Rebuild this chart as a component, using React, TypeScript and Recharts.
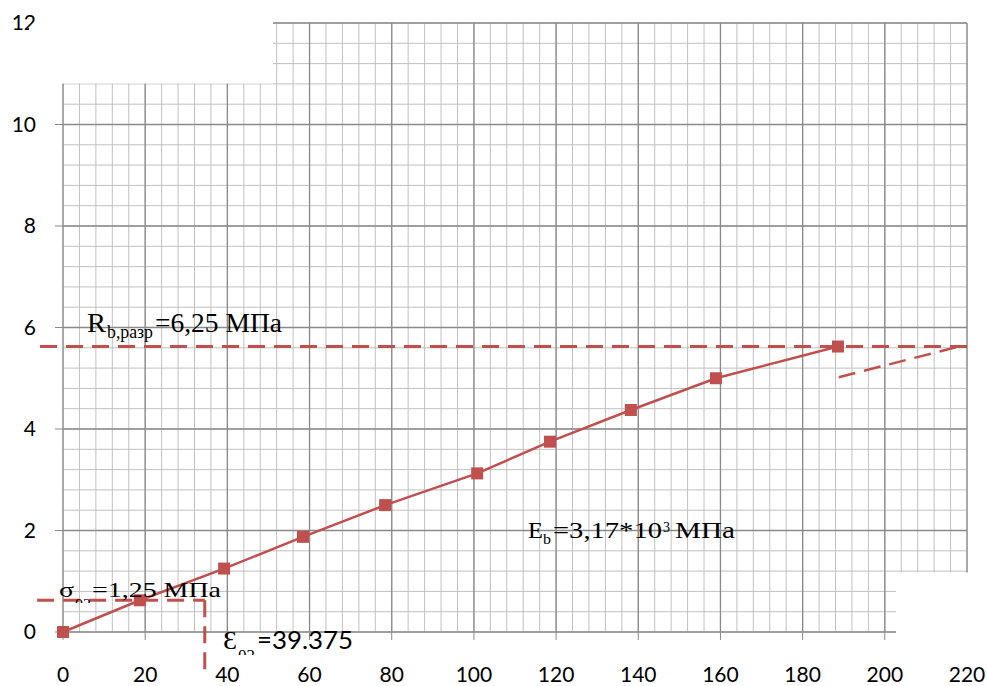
import React from "react";
import { CartesianGrid, LineChart, Line, ReferenceLine, XAxis, YAxis } from "recharts";

// strain (x) and stress (y) readings
const strain = [0, 18.7, 39.2, 58.4, 78.4, 100.8, 118.5, 138.2, 158.9, 188.6];
const stress = [0, 0.625, 1.25, 1.875, 2.5, 3.125, 3.75, 4.375, 5.0, 5.625];

const xTicks = [0, 20, 40, 60, 80, 100, 120, 140, 160, 180, 200, 220];
const yTicks = [0, 2, 4, 6, 8, 10, 12];

// helper lines
const rupture = 5.625;
const sigma02 = 0.625;
const eps02 = 34.5;
const tangentFrom = { x: 188.8, y: 5.02 };
const tangentTo = { x: 217.3, y: 5.61 };

const minorX = Array.from({ length: 56 }, (_, i) => i * 4);
const minorY = Array.from({ length: 31 }, (_, i) => +(i * 0.4).toFixed(1));

const RED = "#c0504d";
const serif = "Liberation Serif, DejaVu Serif, serif";

const data = strain.map((x, i) => ({ x, y: stress[i] }));

function Square(props: any) {
  const { cx, cy, index } = props;
  if (cx == null || cy == null) return null;
  return <rect key={`sq-${index}`} x={cx - 6} y={cy - 6} width={12} height={12} fill={RED} />;
}

const minorVertical = ({ offset }: any) => minorX.map((v) => offset.left + (offset.width * v) / 220);
const minorHorizontal = ({ offset }: any) => minorY.map((v) => offset.top + offset.height * (1 - v / 12));

export default function App() {
  const tickStyle = { fontFamily: "Lato, sans-serif", fontSize: 21, fill: "#000" };
  const t = { fontFamily: serif };
  return (
    <div style={{ position: "absolute", left: 0, top: 0, width: 987, height: 686, background: "#fff" }}>
      <LineChart width={987} height={686} data={data} margin={{ top: 23, right: 20, bottom: 0, left: 0 }}>
        <CartesianGrid
          stroke="#c0c0c0"
          strokeWidth={1}
          verticalCoordinatesGenerator={minorVertical}
          horizontalCoordinatesGenerator={minorHorizontal}
        />
        <CartesianGrid stroke="#8a8a8a" strokeWidth={1.3} />
        <XAxis
          type="number"
          dataKey="x"
          domain={[0, 220]}
          ticks={xTicks}
          interval={0}
          height={54}
          axisLine={false}
          tickSize={8}
          tickMargin={27}
          tickLine={{ stroke: "#8a8a8a" }}
          tick={tickStyle}
        />
        <YAxis
          type="number"
          domain={[0, 12]}
          ticks={yTicks}
          interval={0}
          width={63}
          axisLine={false}
          tickSize={8}
          tickMargin={19}
          tickLine={{ stroke: "#8a8a8a" }}
          tick={tickStyle}
        />
        <ReferenceLine
          segment={[{ x: -5.6, y: rupture }, { x: 220.7, y: rupture }]}
          ifOverflow="visible"
          stroke={RED}
          strokeWidth={3}
          strokeDasharray="17 9"
        />
        <ReferenceLine
          segment={[{ x: -6.3, y: sigma02 }, { x: eps02, y: sigma02 }]}
          ifOverflow="visible"
          stroke={RED}
          strokeWidth={3}
          strokeDasharray="17 9"
        />
        <ReferenceLine
          segment={[{ x: eps02, y: sigma02 }, { x: eps02, y: -0.75 }]}
          ifOverflow="visible"
          stroke={RED}
          strokeWidth={3}
          strokeDasharray="17 9"
        />
        <ReferenceLine
          segment={[tangentFrom, tangentTo]}
          ifOverflow="visible"
          stroke={RED}
          strokeWidth={2.5}
          strokeDasharray="17 9"
        />
        <Line
          type="linear"
          dataKey="y"
          stroke={RED}
          strokeWidth={2.5}
          dot={<Square />}
          activeDot={false}
          isAnimationActive={false}
        />
      </LineChart>
      <svg
        width={987}
        height={686}
        style={{ position: "absolute", left: 0, top: 0, pointerEvents: "none" }}
      >
        <defs>
          <clipPath id="clipSig">
            <rect x={0} y={0} width={987} height={603} />
          </clipPath>
          <clipPath id="clipEps">
            <rect x={0} y={0} width={987} height={655} />
          </clipPath>
        </defs>
        {/* text boxes that hide part of the grid */}
        <rect x={29} y={27} width={244} height={56.5} fill="#fff" />
        <rect x={40} y={0} width={233} height={27} fill="#fff" />
        <rect x={896} y={572.5} width={91} height={69} fill="#fff" />

        <g fill="#000">
          <text style={t} x={87} y={332} fontSize={28} textLength={19} lengthAdjust="spacingAndGlyphs">R</text>
          <text style={t} x={107} y={338} fontSize={18} textLength={46} lengthAdjust="spacingAndGlyphs">b,разр</text>
          <text style={t} x={155} y={332} fontSize={28} textLength={127} lengthAdjust="spacingAndGlyphs">=6,25 МПа</text>

          <text style={t} x={59} y={597} fontSize={22} textLength={15} lengthAdjust="spacingAndGlyphs">σ</text>
          <text style={t} x={75} y={609} fontSize={14} textLength={16} lengthAdjust="spacingAndGlyphs" clipPath="url(#clipSig)">02</text>
          <text style={t} x={92} y={597} fontSize={22} textLength={129} lengthAdjust="spacingAndGlyphs">=1,25 МПа</text>

          <text style={t} x={223} y={649} fontSize={26} textLength={14} lengthAdjust="spacingAndGlyphs">Ɛ</text>
          <text style={t} x={238} y={661} fontSize={16} textLength={17} lengthAdjust="spacingAndGlyphs" clipPath="url(#clipEps)">02</text>
          <text style={{ fontFamily: "Lato, sans-serif" }} x={257} y={649} fontSize={25} textLength={96} lengthAdjust="spacingAndGlyphs">=39.375</text>

          <text style={t} x={528} y={538} fontSize={23} textLength={15} lengthAdjust="spacingAndGlyphs">E</text>
          <text style={t} x={543} y={544} fontSize={15} textLength={8} lengthAdjust="spacingAndGlyphs">b</text>
          <text style={t} x={553} y={538} fontSize={23} textLength={109} lengthAdjust="spacingAndGlyphs">=3,17*10</text>
          <text style={t} x={663} y={532} fontSize={14} textLength={7} lengthAdjust="spacingAndGlyphs">3</text>
          <text style={t} x={675} y={538} fontSize={23} textLength={60} lengthAdjust="spacingAndGlyphs">МПа</text>
        </g>
      </svg>
    </div>
  );
}
